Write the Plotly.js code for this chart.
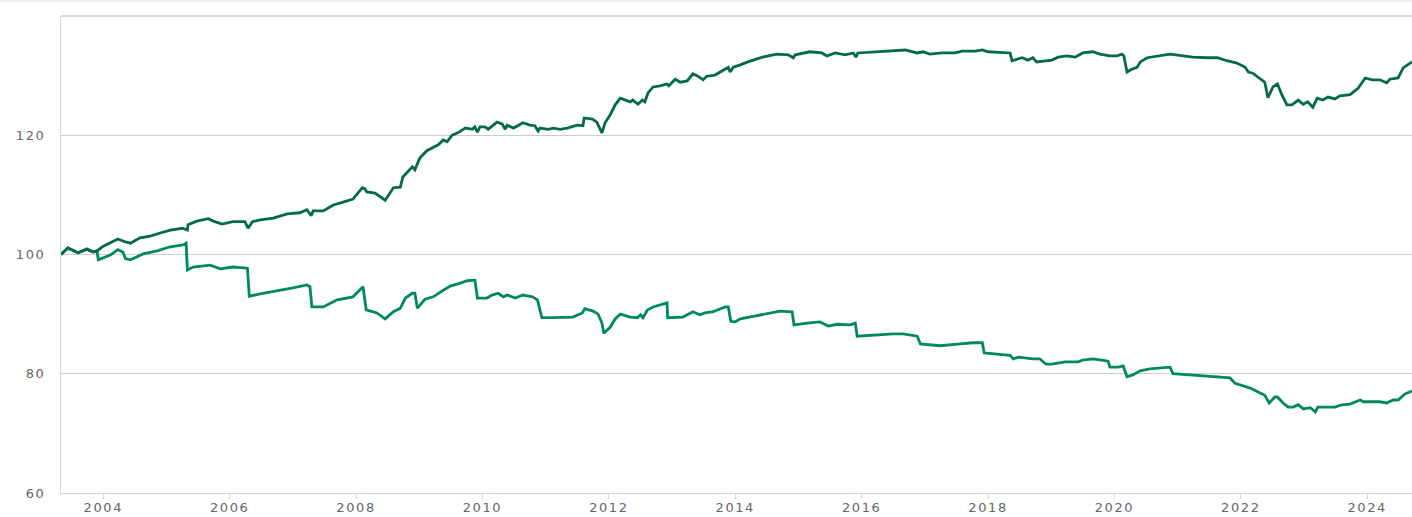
<!DOCTYPE html>
<html>
<head>
<meta charset="utf-8">
<script src="https://cdn.plot.ly/plotly-3.0.1.min.js"></script>
<style>
html,body{margin:0;padding:0;background:#fff;}
#chart{width:1412px;height:517px;}
.xtick text,.ytick text{letter-spacing:1.6px;}
</style>
</head>
<body>
<div id="chart"></div>
<script>
// Upper series (dark green)
var upperDates = [2003.33,2003.44,2003.60,2003.74,2003.84,2003.90,2004.00,2004.23,2004.35,2004.43,2004.58,2004.74,2004.90,2005.06,2005.25,2005.33,2005.34,2005.48,2005.66,2005.74,2005.88,2006.05,2006.24,2006.29,2006.36,2006.48,2006.69,2006.91,2007.11,2007.22,2007.29,2007.32,2007.48,2007.64,2007.86,2007.95,2008.10,2008.14,2008.17,2008.30,2008.46,2008.59,2008.70,
2008.74,2008.81,2008.89,2008.93,2009.01,2009.12,2009.22,2009.30,2009.38,2009.44,2009.52,2009.61,2009.73,2009.84,2009.88,2009.92,2009.96,2010.04,2010.09,2010.23,2010.31,2010.36,2010.39,2010.49,2010.64,2010.75,2010.83,2010.88,2010.91,2011.04,2011.12,2011.23,2011.34,2011.50,2011.59,2011.61,2011.74,2011.81,2011.89,2011.94,2012.02,2012.10,2012.18,2012.34,2012.38,2012.46,2012.53,2012.57,2012.62,2012.70,2012.81,2012.92,2012.95,2013.05,2013.13,2013.24,2013.33,2013.41,2013.49,2013.55,2013.68,2013.76,2013.89,2013.92,2013.97,2014.08,
2014.20,2014.43,2014.66,2014.84,2014.92,2014.95,2015.18,2015.37,2015.45,2015.58,2015.74,2015.87,2015.91,2015.94,2016.21,2016.48,2016.69,2016.88,2016.97,2017.08,2017.27,2017.48,2017.59,2017.80,2017.91,2018.00,2018.22,2018.35,2018.38,2018.54,2018.63,2018.71,2018.77,2018.90,2019.01,2019.11,2019.25,2019.38,2019.50,2019.66,2019.77,2019.93,2020.04,2020.12,2020.15,2020.20,2020.28,2020.36,2020.41,2020.52,2020.68,2020.88,2021.09,2021.24,2021.47,2021.63,2021.78,2021.94,2022.07,2022.12,2022.19,2022.30,2022.38,2022.43,2022.51,2022.58,2022.65,2022.73,2022.81,2022.91,2022.99,2023.06,2023.14,2023.21,2023.30,2023.38,2023.49,2023.57,2023.73,2023.86,2023.97,2024.08,2024.20,2024.31,2024.36,2024.49,2024.57,2024.71];
var upperValues = [100.0,101.1,100.3,100.9,100.4,100.6,101.4,102.6,102.1,101.9,102.8,103.1,103.6,104.1,104.4,104.1,105.0,105.6,106.0,105.6,105.1,105.5,105.5,104.4,105.5,105.8,106.1,106.8,107.0,107.5,106.5,107.3,107.3,108.3,109.0,109.3,111.2,111.0,110.5,110.3,109.1,111.2,111.3,
113.0,113.8,114.7,114.2,116.2,117.4,117.9,118.4,119.2,118.9,120.0,120.4,121.2,121.0,121.4,120.5,121.4,121.4,121.0,122.2,121.9,121.0,121.7,121.2,122.1,121.7,121.6,120.7,121.2,121.0,121.2,121.0,121.2,121.7,121.6,122.9,122.7,122.2,120.4,122.1,123.4,125.1,126.2,125.6,125.9,125.2,125.9,125.6,127.1,128.1,128.3,128.6,128.3,129.4,128.9,129.1,130.3,129.9,129.3,129.9,130.1,130.6,131.4,130.6,131.4,131.8,
132.3,133.1,133.6,133.5,133.0,133.5,134.0,133.8,133.3,133.8,133.5,133.8,133.1,133.8,134.0,134.1,134.3,133.8,134.0,133.6,133.8,133.8,134.1,134.1,134.3,134.0,133.8,133.8,132.5,133.0,132.6,133.0,132.3,132.5,132.6,133.1,133.3,133.1,133.8,134.0,133.6,133.3,133.3,133.6,133.3,130.6,131.1,131.4,132.3,133.0,133.3,133.6,133.3,133.1,133.0,133.0,132.5,132.1,131.4,130.6,130.4,129.6,128.9,126.3,128.1,128.6,126.8,125.1,125.1,125.9,125.2,125.6,124.7,126.2,125.9,126.4,126.1,126.6,126.8,127.9,129.6,129.3,129.3,128.8,129.4,129.6,131.3,132.3];

// Lower series (lighter green)
var lowerDates = [2003.33,2003.44,2003.60,2003.74,2003.84,2003.90,2003.92,2004.11,2004.23,2004.31,2004.35,2004.43,2004.63,2004.85,2005.06,2005.26,2005.31,2005.33,2005.42,2005.69,2005.85,2006.05,2006.28,2006.31,2006.48,2006.75,2007.00,2007.22,2007.27,2007.30,2007.48,2007.70,2007.95,2008.11,2008.16,2008.33,2008.46,2008.59,2008.70,2008.78,2008.89,2008.93,2008.97,2009.09,2009.22,2009.38,2009.49,2009.65,2009.76,2009.88,2009.92,2010.07,2010.15,2010.25,2010.33,2010.39,2010.52,2010.64,2010.79,2010.87,2010.94,2011.12,2011.28,2011.43,2011.58,2011.62,2011.75,2011.83,2011.89,2011.92,2012.02,2012.10,2012.18,2012.34,2012.45,2012.50,2012.54,2012.61,2012.70,2012.92,2012.93,2013.08,2013.17,2013.33,2013.44,2013.52,2013.65,2013.84,2013.89,2013.93,2014.00,2014.08,
2014.39,2014.71,2014.90,2014.93,2015.14,2015.34,2015.47,2015.61,2015.82,2015.90,2015.93,2016.18,2016.50,2016.66,2016.88,2016.93,2017.24,2017.56,2017.76,2017.91,2017.94,2018.14,2018.35,2018.40,2018.48,2018.71,2018.82,2018.92,2019.01,2019.22,2019.43,2019.50,2019.66,2019.80,2019.90,2019.93,2020.06,2020.14,2020.20,2020.29,2020.41,2020.56,2020.88,2020.93,2021.20,2021.56,2021.83,2021.91,2022.07,2022.15,2022.30,2022.38,2022.45,2022.54,2022.58,2022.67,2022.75,2022.83,2022.91,2022.99,2023.10,2023.18,2023.22,2023.37,2023.49,2023.60,2023.73,2023.89,2023.94,2024.05,2024.20,2024.31,2024.41,2024.49,2024.60,2024.71];
var lowerValues = [100.0,101.1,100.3,100.9,100.4,100.6,99.1,99.9,100.8,100.4,99.3,99.1,100.1,100.6,101.3,101.6,101.9,97.4,97.9,98.2,97.6,97.9,97.7,93.0,93.4,93.9,94.4,94.9,94.6,91.2,91.2,92.4,92.9,94.6,90.7,90.2,89.2,90.4,91.0,92.7,93.5,93.5,91.0,92.5,92.9,94.0,94.7,95.2,95.6,95.7,92.7,92.7,93.2,93.5,92.9,93.2,92.7,93.2,92.9,92.4,89.4,89.4,89.5,89.5,90.2,90.9,90.5,90.0,88.5,86.8,87.8,89.2,90.0,89.5,89.4,89.9,89.4,90.7,91.2,91.9,89.4,89.5,89.5,90.4,89.9,90.2,90.4,91.2,91.2,88.8,88.7,89.2,
89.9,90.5,90.4,88.2,88.5,88.7,88.0,88.3,88.2,88.5,86.3,86.5,86.7,86.7,86.3,85.0,84.7,85.0,85.2,85.2,83.5,83.3,83.1,82.5,82.8,82.5,82.5,81.6,81.6,82.0,82.0,82.3,82.5,82.3,82.1,81.1,81.1,81.3,79.5,79.8,80.5,80.8,81.1,80.0,79.8,79.6,79.3,78.4,77.8,77.6,76.8,76.4,75.1,76.1,76.1,75.1,74.4,74.4,74.8,74.1,74.3,73.6,74.4,74.4,74.4,74.8,74.9,75.6,75.3,75.3,75.3,75.1,75.6,75.6,76.6,77.1];

var xTickVals = [2004,2006,2008,2010,2012,2014,2016,2018,2020,2022,2024];
var xTickText = ['2004','2006','2008','2010','2012','2014','2016','2018','2020','2022','2024'];
var yTickVals = [60,80,100,120,140];
var yTickText = ['60','80','100','120',''];

var traces = [
  {x: lowerDates, y: lowerValues, type: 'scatter', mode: 'lines',
   line: {color: '#008a5a', width: 2.8}, hoverinfo: 'x+y'},
  {x: upperDates, y: upperValues, type: 'scatter', mode: 'lines',
   line: {color: '#046b45', width: 2.8}, hoverinfo: 'x+y'}
];

var layout = {
  width: 1412, height: 517,
  margin: {l: 61, r: 0, t: 16, b: 24},
  paper_bgcolor: '#ffffff', plot_bgcolor: '#ffffff',
  showlegend: false,
  font: {family: 'DejaVu Sans, sans-serif', size: 13, color: '#666666'},
  xaxis: {
    range: [2003.33, 2024.71], tickmode: 'array', tickvals: xTickVals, ticktext: xTickText,
    showgrid: false, zeroline: false, showline: true, linecolor: '#ccd6eb', linewidth: 1,
    ticks: 'outside', ticklen: 5, tickcolor: '#ccd6eb', tickwidth: 1,
    ticklabelstandoff: -3,
    tickfont: {family: 'DejaVu Sans, sans-serif', size: 13, color: '#666666'}
  },
  yaxis: {
    range: [60, 140], tickmode: 'array', tickvals: yTickVals, ticktext: yTickText,
    showgrid: true, gridcolor: '#cccccc', gridwidth: 1, zeroline: false,
    showline: true, linecolor: '#ccd6eb', linewidth: 1, ticks: '',
    ticklabelstandoff: 12,
    tickfont: {family: 'DejaVu Sans, sans-serif', size: 13, color: '#666666'}
  },
  shapes: [
    // top gridline (value 140) drawn at the top edge of the plot area
    {type: 'line', xref: 'paper', yref: 'paper', x0: 0, x1: 1, y0: 1, y1: 1,
     line: {color: '#c8c8c8', width: 1.5}, layer: 'above'},
    // faint page border line at the very top
    {type: 'line', xref: 'paper', yref: 'paper', x0: -0.05, x1: 1, y0: 1.0315, y1: 1.0315,
     line: {color: '#eeeeee', width: 2}, layer: 'above'}
  ]
};

Plotly.newPlot('chart', traces, layout, {displayModeBar: false, staticPlot: true});
</script>
</body>
</html>
